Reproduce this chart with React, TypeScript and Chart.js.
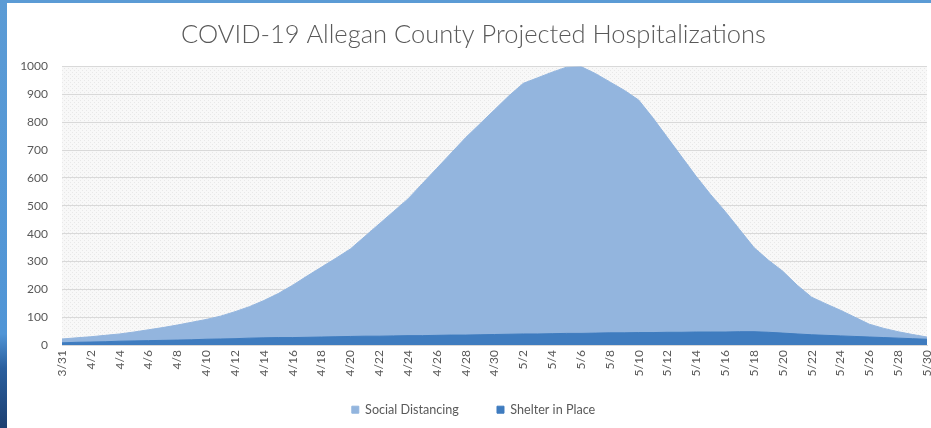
import { useEffect, useRef } from 'react';
import { Chart, registerables } from 'chart.js';
Chart.register(...registerables);

const dates = [
  '3/31',
  '4/1', '4/2', '4/3', '4/4', '4/5', '4/6', '4/7', '4/8', '4/9', '4/10',
  '4/11', '4/12', '4/13', '4/14', '4/15', '4/16', '4/17', '4/18', '4/19', '4/20',
  '4/21', '4/22', '4/23', '4/24', '4/25', '4/26', '4/27', '4/28', '4/29', '4/30',
  '5/1', '5/2', '5/3', '5/4', '5/5', '5/6', '5/7', '5/8', '5/9', '5/10',
  '5/11', '5/12', '5/13', '5/14', '5/15', '5/16', '5/17', '5/18', '5/19', '5/20',
  '5/21', '5/22', '5/23', '5/24', '5/25', '5/26', '5/27', '5/28', '5/29', '5/30',
];

const socialDistancing = [
  22,
  26, 30, 35, 40, 47, 55, 63, 72, 82, 92,
  104, 120, 138, 160, 185, 215, 248, 280, 312, 345,
  390, 435, 480, 525, 580, 635, 690, 745, 795, 845,
  895, 940, 960, 980, 998, 1000, 975, 945, 915, 880,
  815, 745, 675, 605, 540, 480, 415, 350, 305, 265,
  215, 172, 148, 125, 100, 75, 60, 48, 38, 29,
];

const shelterInPlace = [
  8,
  10, 11, 12, 14, 15, 16, 17, 18, 19, 21,
  22, 23, 25, 26, 27, 27, 28, 29, 30, 31,
  32, 32, 33, 34, 34, 35, 36, 36, 37, 38,
  39, 40, 40, 41, 42, 42, 43, 44, 44, 45,
  45, 46, 46, 47, 47, 47, 48, 48, 46, 43,
  40, 37, 35, 33, 31, 29, 27, 25, 23, 21,
];

const titleText = 'COVID-19 Allegan County Projected Hospitalizations';
const seriesNames = ['Social Distancing', 'Shelter in Place'];

export default function App() {
  const ref = useRef<HTMLCanvasElement>(null);

  useEffect(() => {
    const canvas = ref.current!;
    const pc = document.createElement('canvas');
    pc.width = 4;
    pc.height = 4;
    const pctx = pc.getContext('2d')!;
    pctx.fillStyle = '#f8f8f8';
    pctx.fillRect(0, 0, 4, 4);
    pctx.fillStyle = '#e8e8e8';
    pctx.fillRect(0, 0, 1, 1);
    pctx.fillRect(2, 2, 1, 1);
    const ctx = canvas.getContext('2d')!;
    const pattern = ctx.createPattern(pc, 'repeat');

    const bgPlugin = {
      id: 'plotBg',
      beforeDraw(chart: any) {
        const { ctx: c, chartArea: a } = chart;
        c.save();
        c.fillStyle = pattern || '#f4f4f4';
        c.fillRect(a.left, a.top, a.right - a.left, a.bottom - a.top);
        c.restore();
      },
    };

    const chart = new Chart(canvas, {
      type: 'line',
      data: {
        labels: dates,
        datasets: [
          {
            label: seriesNames[0],
            data: socialDistancing,
            backgroundColor: '#93b5de',
            borderColor: '#93b5de',
            borderWidth: 1,
            fill: 'origin',
            pointRadius: 0,
            tension: 0,
            order: 1,
          },
          {
            label: seriesNames[1],
            data: shelterInPlace,
            backgroundColor: '#3f7cbf',
            borderColor: '#3f7cbf',
            borderWidth: 1,
            fill: 'origin',
            pointRadius: 0,
            tension: 0,
            order: 0,
          },
        ],
      },
      options: {
        animation: false,
        responsive: true,
        maintainAspectRatio: false,
        layout: { padding: { left: 20, right: 4, top: 19, bottom: 2 } },
        plugins: {
          title: {
            display: true,
            text: titleText,
            color: '#595959',
            font: { family: 'Lato', size: 25.5, weight: '300' as any },
            padding: { top: 0, bottom: 17 },
          },
          legend: {
            position: 'bottom',
            labels: {
              boxWidth: 7,
              boxHeight: 7,
              color: '#595959',
              font: { family: 'Lato', size: 12.6 },
              padding: 22,
              sort: (a: any, b: any) => a.datasetIndex - b.datasetIndex,
              generateLabels: (ch: any) => {
                const items = Chart.defaults.plugins.legend.labels.generateLabels(ch);
                items.forEach((it: any) => {
                  if (it.datasetIndex === 0) it.text = it.text + '     ';
                });
                return items;
              },
            },
          },
          tooltip: { enabled: false },
        },
        scales: {
          x: {
            offset: false,
            afterFit: (s: any) => {
              s.paddingRight = 0;
              s.paddingLeft = 0;
            },
            grid: { display: false, drawTicks: false },
            border: { color: '#d9d9d9' },
            ticks: {
              autoSkip: false,
              maxRotation: 90,
              minRotation: 90,
              color: '#595959',
              font: { family: 'Lato', size: 12 },
              padding: 5,
              callback: (_v: any, i: number) => (i % 2 === 0 ? dates[i] : ''),
            },
          },
          y: {
            min: 0,
            max: 1000,
            afterFit: (s: any) => {
              s.width = 42;
            },
            grid: { color: '#d9d9d9', drawTicks: false },
            border: { display: false },
            ticks: {
              stepSize: 100,
              color: '#595959',
              font: { family: 'Lato', size: 12 },
              padding: 14,
              callback: (v: any) => String(v),
            },
          },
        },
      },
      plugins: [bgPlugin],
    });
    return () => chart.destroy();
  }, []);

  return (
    <div style={{ position: 'fixed', left: 0, top: 0, width: 931, height: 428, background: '#ffffff', overflow: 'hidden' }}>
      <div style={{ position: 'absolute', left: 0, top: 0, width: 931, height: 428 }}>
        <canvas ref={ref} />
      </div>
      <div style={{ position: 'absolute', left: 0, top: 0, width: 931, height: 3, background: '#5b9bd5' }} />
      <div
        style={{
          position: 'absolute',
          left: 0,
          top: 0,
          width: 7,
          height: 428,
          background: 'linear-gradient(to bottom, #5b9bd5 0%, #5095d6 78%, #2a5f9e 86%, #1c3f70 100%)',
        }}
      />
    </div>
  );
}
